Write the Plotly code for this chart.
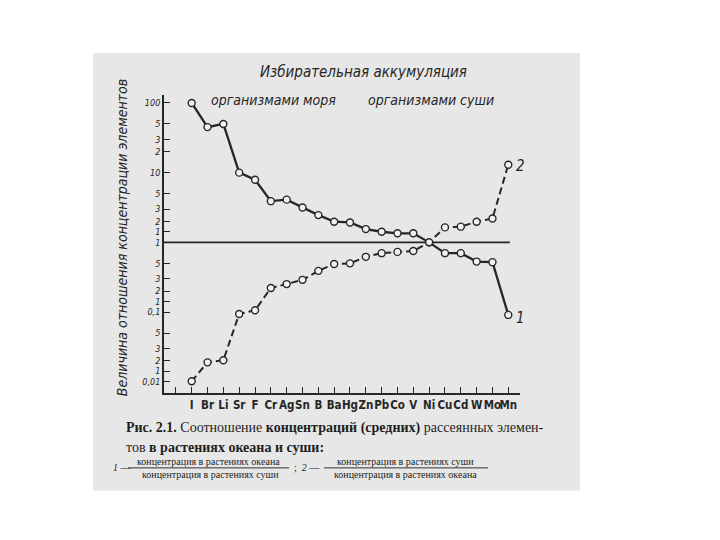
import plotly.graph_objects as go

# ---------------- data ----------------
elements = ["I", "Br", "Li", "Sr", "F", "Cr", "Ag", "Sn", "B", "Ba", "Hg",
            "Zn", "Pb", "Co", "V", "Ni", "Cu", "Cd", "W", "Mo", "Mn"]
# curve 1: ocean plants / land plants
ratio_ocean_land = [100, 45, 50, 10, 7.9, 3.9, 4.1, 3.16, 2.46, 1.98, 1.93,
                    1.55, 1.42, 1.35, 1.35, 1.0, 0.70, 0.70, 0.53, 0.52, 0.091]
# curve 2: land plants / ocean plants
ratio_land_ocean = [0.0102, 0.019, 0.0204, 0.094, 0.106, 0.222, 0.252, 0.29, 0.39, 0.49, 0.50,
                    0.62, 0.70, 0.73, 0.75, 1.0, 1.64, 1.68, 1.98, 2.2, 13]

y_tickvals = [0.01, 0.0142, 0.02, 0.03, 0.05, 0.1, 0.142, 0.2, 0.3, 0.5,
              1, 1.42, 2, 3, 5, 10, 20, 30, 50, 100]
y_ticktext = ["0,01", "1", "2", "3", "5", "0,1", "1", "2", "3", "5",
              "1", "1", "2", "3", "5", "10", "2", "3", "5", "100"]

x_idx = list(range(len(elements)))

# ---------------- geometry (window pixels; page body has an 8px margin) ----------------
OFF = 8
L, R, T, B = 164, 520, 95, 392.7
W, H = 720 - OFF, 540 - OFF


def px(x):
    return (x - L) / (R - L)


def py(y):
    return (B - y) / (B - T)


INK = "#262626"

fig = go.Figure()

# reference line at ratio = 1
fig.add_trace(go.Scatter(x=[-1.75, 20.1], y=[1, 1], mode="lines",
                         line=dict(color=INK, width=1.8), hoverinfo="skip", showlegend=False))

fig.add_trace(go.Scatter(
    x=x_idx, y=ratio_ocean_land, mode="lines+markers", showlegend=False,
    line=dict(color=INK, width=2.3),
    marker=dict(symbol="circle", size=7, color="#f2f2f2", line=dict(color=INK, width=1.4))))

fig.add_trace(go.Scatter(
    x=x_idx, y=ratio_land_ocean, mode="lines+markers", showlegend=False,
    line=dict(color=INK, width=2.0, dash="7px,4px"),
    marker=dict(symbol="circle", size=7, color="#f2f2f2", line=dict(color=INK, width=1.4))))

hand = "DejaVu Sans Condensed, DejaVu Sans, sans-serif"
serif = "Liberation Serif, DejaVu Serif, serif"

fig.update_layout(
    width=W, height=H, autosize=False,
    margin=dict(l=L - OFF, r=720 - R, t=T - OFF, b=540 - B, pad=0),
    paper_bgcolor="white", plot_bgcolor="rgba(0,0,0,0)",
    xaxis=dict(
        range=[-1.75, 20.74], tickmode="array",
        tickvals=[-1] + x_idx, ticktext=[""] + elements, tickangle=0,
        ticks="inside", ticklen=6, tickwidth=1.2, tickcolor=INK,
        showline=True, linecolor=INK, linewidth=1.8,
        showgrid=False, zeroline=False,
        tickfont=dict(family=hand, size=11.5, color=INK, weight="bold"),
    ),
    yaxis=dict(
        type="log", range=[-2.161, 2.114], tickmode="array",
        tickvals=y_tickvals, ticktext=["<i>" + t + "</i>" for t in y_ticktext],
        ticks="inside", ticklen=6, tickwidth=1.2, tickcolor=INK,
        showline=True, linecolor=INK, linewidth=1.8,
        showgrid=False, zeroline=False,
        tickfont=dict(family=hand, size=9, color=INK),
    ),
)

# scanned-page grey background
fig.add_shape(type="rect", xref="paper", yref="paper", layer="below",
              x0=px(93), x1=px(580), y0=py(490), y1=py(53),
              fillcolor="#e7e7e7", line=dict(width=0))

ann = []


def text(x, y, s, size, family=hand, color=INK, xanchor="center", angle=0):
    ann.append(dict(x=px(x), y=py(y), xref="paper", yref="paper", text=s,
                    showarrow=False, xanchor=xanchor, yanchor="middle",
                    textangle=angle, font=dict(family=family, size=size, color=color)))


text(363, 72, "<i>Избирательная аккумуляция</i>", 15)
text(273, 100, "<i>организмами моря</i>", 14)
text(431, 100, "<i>организмами суши</i>", 14)
text(122, 238, "<i>Величина отношения концентрации элементов</i>", 14, angle=-90)
text(520, 166, "<i>2</i>", 15)
text(520, 318, "<i>1</i>", 15)

cap = "#1e1e1e"
text(124, 428, "<b>Рис. 2.1.</b> Соотношение <b>концентраций (средних)</b> рассеянных элемен-",
     14, family=serif, color=cap, xanchor="left")
text(124, 447, "тов <b>в растениях океана и суши:</b>", 14, family=serif, color=cap, xanchor="left")
text(111, 467, "<i>1</i> —", 10, family=serif, color=cap, xanchor="left")
text(208, 461, "концентрация в растениях океана", 10, family=serif, color=cap)
text(210, 474, "концентрация в растениях суши", 10, family=serif, color=cap)
text(292, 467, ";  <i>2</i> —", 10, family=serif, color=cap, xanchor="left")
text(405, 461, "концентрация в растениях суши", 10, family=serif, color=cap)
text(405, 474, "концентрация в растениях океана", 10, family=serif, color=cap)
fig.update_layout(annotations=ann)

fig.add_shape(type="line", xref="paper", yref="paper", x0=px(128), x1=px(289),
              y0=py(467.5), y1=py(467.5), line=dict(color=cap, width=0.9))
fig.add_shape(type="line", xref="paper", yref="paper", x0=px(324), x1=px(488),
              y0=py(467.5), y1=py(467.5), line=dict(color=cap, width=0.9))

fig.write_html("out.html")
